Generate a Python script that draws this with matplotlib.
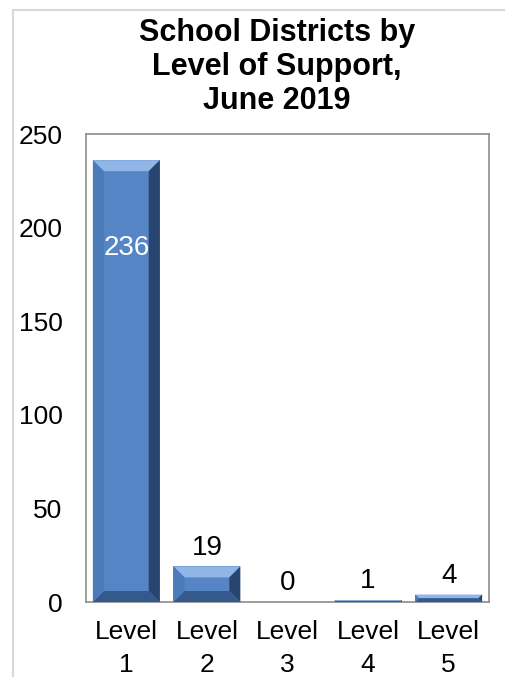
import matplotlib
matplotlib.use("Agg")
import matplotlib.pyplot as plt
from matplotlib.patches import Polygon, Rectangle

# dados do gráfico
niveis = ["Level\n1", "Level\n2", "Level\n3", "Level\n4", "Level\n5"]
distritos = [236, 19, 0, 1, 4]
y_ticks = [0, 50, 100, 150, 200, 250]
titulo = "School Districts by\nLevel of Support,\nJune 2019"

plt.rcParams["font.family"] = ["Liberation Sans", "DejaVu Sans"]

W, H = 506, 677
fig = plt.figure(figsize=(W / 100, H / 100), dpi=100)
fig.patch.set_facecolor("white")

# moldura cinza clara do gráfico
fig.patches.append(Rectangle((13 / W, -0.1), 1.2, 0.1 + 667 / H, transform=fig.transFigure,
                             fill=False, edgecolor="#d9d9d9", lw=1.5))

ax = fig.add_axes([86 / W, 75 / H, 403 / W, 468 / H])
x = list(range(len(niveis)))
barras = ax.bar(x, distritos, width=0.83, color="#5585c5", edgecolor="none", zorder=2)
ax.set_xlim(-0.5, len(niveis) - 0.5)
ax.set_ylim(0, 250)

# efeito de bisel (aproximado) em cada barra
px_x = 1 / 80.6          # unidades de dados por pixel em x
px_y = 250 / 468         # unidades de dados por pixel em y
for b in barras:
    x0, y0 = b.get_x(), b.get_y()
    w, h = b.get_width(), b.get_height()
    if h <= 0:
        continue
    bev_px = min(11, h / px_y / 2)
    bx, by = bev_px * px_x, bev_px * px_y
    x1, y1 = x0 + w, y0 + h
    faces = [
        ([(x0, y1), (x1, y1), (x1 - bx, y1 - by), (x0 + bx, y1 - by)], "#8fb6e6"),
        ([(x1, y1), (x1, y0), (x1 - bx, y0 + by), (x1 - bx, y1 - by)], "#27456f"),
        ([(x0, y0), (x1, y0), (x1 - bx, y0 + by), (x0 + bx, y0 + by)], "#34598c"),
        ([(x0, y0), (x0, y1), (x0 + bx, y1 - by), (x0 + bx, y0 + by)], "#4c7bb9"),
    ]
    for pts, cor in faces:
        ax.add_patch(Polygon(pts, closed=True, facecolor=cor, edgecolor="none", zorder=3))

# rótulos de dados
for i, v in enumerate(distritos):
    if v > 100:
        ax.annotate(str(v), (x[i], v), xytext=(0, -63), textcoords="offset points",
                    ha="center", va="center", color="white", fontsize=20, zorder=4)
    else:
        ax.annotate(str(v), (x[i], v), xytext=(0, 13.5), textcoords="offset points",
                    ha="center", va="center", color="black", fontsize=20, zorder=4)

ax.set_yticks(y_ticks)
ax.set_yticklabels([str(t) for t in y_ticks], fontsize=19)
ax.set_xticks(x)
ax.set_xticklabels(niveis, fontsize=19, linespacing=1.45)
ax.tick_params(axis="y", length=0, pad=17)
ax.tick_params(axis="x", length=0, pad=13)
for s in ax.spines.values():
    s.set_color("#8c8c8c")
    s.set_linewidth(1.2)

fig.text(277 / W, 1 - 67 / H, titulo, ha="center", va="center", fontsize=22,
         fontweight="bold", linespacing=1.17)

fig.savefig("out.png", dpi=100)
